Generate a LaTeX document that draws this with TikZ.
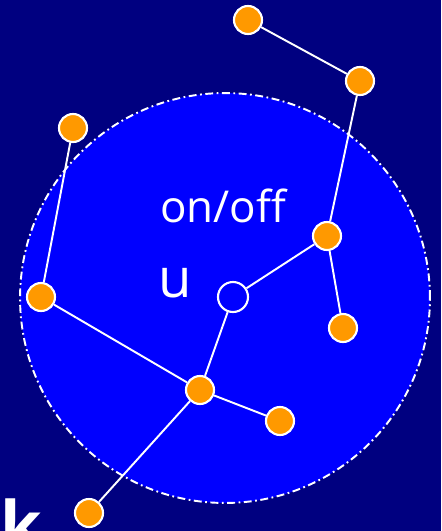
\documentclass[tikz,border=0pt]{standalone}
\usepackage{fontspec}
\setmainfont{Open Sans}
\definecolor{navybg}{HTML}{000080}
\definecolor{ballblue}{HTML}{0000FF}
\definecolor{dotorange}{HTML}{FF9900}
\tikzset{
    dot/.style={circle,draw=white,fill=dotorange,line width=1.2pt,minimum size=0.56cm,inner sep=0pt},
    hub/.style={circle,draw=white,fill=ballblue,line width=1.2pt,minimum size=0.6cm,inner sep=0pt},
    link/.style={white,line width=1.1pt},
    label/.style={white,inner sep=0pt,font=\fontsize{25}{30}\selectfont}
}

\begin{document}
\begin{tikzpicture}[x=0.02cm,y=-0.02cm]
    % background and the range of u
    \fill[navybg] (0,0) rectangle (441,531);
    \useasboundingbox (0,0) rectangle (441,531);
    \fill[ballblue] (225,298) circle (4.1cm);
    \draw[white,line width=1.1pt,dash pattern=on 4.5pt off 2pt on 1pt off 2pt] (225,298) circle (4.1cm);

    % nodes
    \node[dot] (t1) at (248,20) {};
    \node[dot] (t2) at (360,81) {};
    \node[dot] (a)  at (73,128) {};
    \node[dot] (b)  at (41,297) {};
    \node[dot] (c)  at (327,236) {};
    \node[dot] (d)  at (343,328) {};
    \node[hub] (u)  at (233,297) {};
    \node[dot] (e)  at (200,390) {};
    \node[dot] (f)  at (280,421) {};
    \node[dot] (g)  at (89,513) {};

    % links
    \draw[link] (t1) -- (t2);
    \draw[link] (t2) -- (c);
    \draw[link] (c) -- (u);
    \draw[link] (c) -- (d);
    \draw[link] (u) -- (e);
    \draw[link] (e) -- (b);
    \draw[link] (b) -- (a);
    \draw[link] (e) -- (f);
    \draw[link] (e) -- (g);

    % texts
    \node[label,anchor=base west] (onoff) at (160,222) {on/off};
    \node[label,anchor=base west,font=\fontsize{31}{36}\selectfont] (ulab) at (158,297) {u};
    \node[label,anchor=base west,font=\bfseries\fontsize{38}{44}\selectfont] (klab) at (0,549) {k};
\end{tikzpicture}
\end{document}
